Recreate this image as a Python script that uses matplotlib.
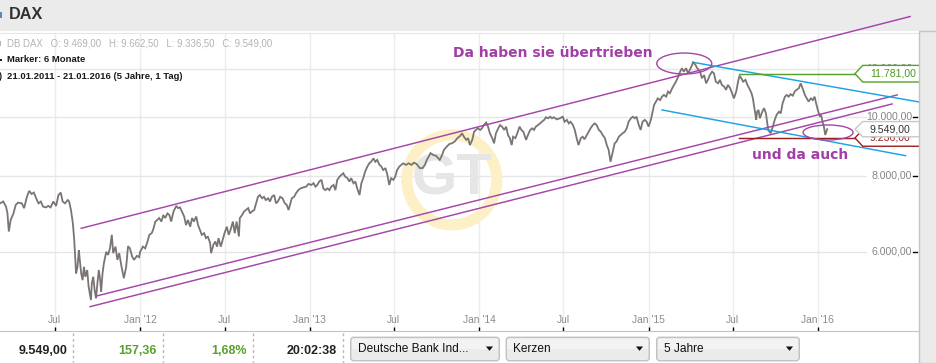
import numpy as np
import pandas as pd
import matplotlib
matplotlib.use("Agg")
import matplotlib.pyplot as plt
import matplotlib.dates as mdates
import matplotlib.transforms as mtransforms
from matplotlib.patches import Rectangle, Ellipse, Circle, Polygon, FancyBboxPatch

plt.rcParams["font.family"] = ["Liberation Sans", "DejaVu Sans"]

# ---------------- data ----------------
start_date = "2011-01-21"
day_offsets = [43, 50, 56, 59, 62, 66, 72, 77, 82, 90, 95, 101, 106, 111, 116, 121, 126, 131, 136, 142, 147, 152, 158, 164, 169, 174, 178, 183, 189, 192, 196, 200, 203, 205, 207, 210, 213, 215, 218, 221, 224, 227, 231, 234, 239, 241, 244, 247, 250, 253, 256, 259, 261, 264, 267, 272, 276, 280, 284, 287, 292, 296, 300, 305, 310, 315, 319, 323, 328, 332, 338, 343, 345, 351, 356, 361, 365, 370, 373, 378, 382, 386, 391, 395, 399, 404, 408, 412, 417, 423, 427, 431, 435, 440, 444, 448, 453, 457, 461, 466, 470, 474, 478, 483, 487, 491, 496, 498, 503, 507, 511, 514, 519, 523, 527, 532, 536, 540, 545, 549, 553, 558, 560, 565, 569, 573, 578, 582, 586, 591, 595, 599, 603, 608, 612, 616, 621, 625, 629, 634, 638, 642, 647, 652, 657, 661, 665, 668, 672, 677, 681, 686, 691, 697, 703, 708, 714, 719, 723, 727, 731, 736, 740, 744, 749, 753, 757, 762, 766, 770, 775, 779, 783, 787, 792, 796, 800, 805, 809, 813, 818, 822, 826, 830, 835, 839, 843, 848, 852, 856, 861, 865, 869, 874, 878, 882, 886, 891, 895, 899, 904, 908, 912, 918, 924, 930, 935, 941, 948, 954, 959, 963, 967, 971, 977, 983, 988, 991, 996, 1000, 1006, 1012, 1017, 1023, 1029, 1035, 1039, 1043, 1048, 1052, 1056, 1061, 1065, 1069, 1073, 1078, 1082, 1086, 1091, 1095, 1099, 1104, 1108, 1112, 1117, 1121, 1125, 1130, 1134, 1138, 1142, 1146, 1149, 1154, 1158, 1163, 1167, 1171, 1177, 1181, 1186, 1190, 1194, 1198, 1203, 1207, 1211, 1216, 1220, 1224, 1229, 1233, 1237, 1243, 1250, 1256, 1260, 1265, 1269, 1273, 1278, 1282, 1286, 1290, 1295, 1299, 1303, 1308, 1312, 1316, 1321, 1325, 1329, 1334, 1338, 1342, 1347, 1351, 1355, 1359, 1364, 1368, 1372, 1377, 1381, 1385, 1390, 1394, 1398, 1403, 1407, 1411, 1415, 1420, 1424, 1428, 1433, 1437, 1441, 1446, 1449, 1453, 1457, 1461, 1466, 1470, 1474, 1479, 1483, 1487, 1492, 1496, 1500, 1505, 1509, 1513, 1517, 1522, 1526, 1530, 1535, 1537, 1542, 1546, 1552, 1556, 1561, 1565, 1569, 1573, 1578, 1582, 1586, 1591, 1595, 1599, 1604, 1608, 1612, 1617, 1621, 1625, 1630, 1634, 1637, 1641, 1645, 1650, 1654, 1658, 1663, 1666, 1668, 1671, 1673, 1675, 1678, 1681, 1686, 1690, 1694, 1699, 1704, 1709, 1713, 1717, 1722, 1726, 1730, 1735, 1739, 1743, 1747, 1752, 1756, 1760, 1765, 1769, 1773, 1778, 1782, 1786, 1791, 1795, 1799, 1803, 1807, 1811, 1813, 1816, 1819, 1822, 1826]
closes = [7210, 7260, 7120, 6950, 6480, 6770, 6940, 7170, 7230, 7210, 7080, 7390, 7560, 7470, 7510, 7350, 7210, 7260, 7120, 7100, 7140, 7100, 7260, 7140, 7440, 7510, 7260, 7210, 7300, 7260, 7030, 6690, 6280, 5890, 5530, 5670, 6040, 5820, 5530, 5390, 5670, 5460, 5600, 5260, 5000, 5330, 5460, 5190, 5030, 5330, 5600, 5390, 5160, 5530, 5750, 6000, 5930, 6080, 6400, 5970, 6120, 5820, 5970, 5670, 5430, 5670, 6130, 6080, 5890, 5820, 5910, 5880, 6000, 6120, 6080, 6240, 6400, 6440, 6520, 6730, 6770, 6820, 6730, 6900, 6820, 6940, 6900, 6730, 6990, 7140, 7080, 7100, 6990, 6860, 6640, 6770, 6600, 6820, 6730, 6860, 6640, 6520, 6400, 6440, 6320, 6360, 6200, 5970, 6160, 6240, 6120, 6320, 6120, 6280, 6440, 6600, 6400, 6520, 6730, 6440, 6730, 6360, 6820, 6900, 6990, 7030, 7080, 6940, 6990, 7030, 7210, 7390, 7440, 7350, 7390, 7300, 7350, 7260, 7390, 7440, 7210, 7260, 7390, 7350, 7210, 7170, 7030, 7170, 7350, 7390, 7490, 7580, 7630, 7660, 7680, 7760, 7730, 7780, 7680, 7730, 7830, 7880, 7630, 7580, 7630, 7580, 7680, 7730, 7580, 7880, 7980, 8030, 8080, 7980, 7930, 7830, 7930, 7780, 7830, 7630, 7440, 7780, 7930, 8130, 8290, 8390, 8440, 8550, 8440, 8500, 8340, 8290, 8180, 8240, 8030, 7730, 7930, 7880, 7980, 8180, 8290, 8340, 8390, 8340, 8390, 8340, 8410, 8370, 8240, 8240, 8340, 8500, 8600, 8720, 8660, 8630, 8550, 8500, 8660, 8830, 8940, 9030, 9050, 9110, 9230, 9310, 9400, 9280, 9170, 9230, 8990, 9170, 9460, 9520, 9580, 9520, 9580, 9700, 9790, 9640, 9400, 9230, 9050, 9400, 9580, 9700, 9640, 9520, 9640, 9340, 9230, 8990, 9280, 9230, 9400, 9640, 9520, 9460, 9170, 9340, 9520, 9580, 9520, 9640, 9700, 9760, 9820, 9890, 9990, 9950, 10010, 9950, 9990, 9910, 9950, 10010, 9820, 9890, 9760, 9820, 9700, 9520, 9230, 8990, 9230, 9280, 9190, 9340, 9460, 9580, 9700, 9760, 9700, 9520, 9460, 9340, 9230, 8990, 8830, 8440, 8770, 9050, 9110, 9280, 9340, 9400, 9460, 9580, 9820, 9950, 10010, 9950, 10010, 9700, 9520, 9820, 9890, 9820, 9640, 9890, 10140, 10470, 10600, 10730, 10660, 10800, 10870, 10800, 11010, 10940, 11150, 11290, 11430, 11650, 11870, 12030, 11870, 12030, 11800, 11950, 12180, 12330, 12180, 12030, 11870, 11580, 11720, 11360, 11510, 11720, 11870, 11800, 11430, 11360, 11510, 11290, 11220, 11080, 11290, 11150, 10940, 10730, 11010, 11430, 11690, 11580, 11430, 11510, 11290, 11150, 10940, 10730, 10470, 10140, 9890, 10200, 10270, 9950, 10200, 10340, 10140, 9520, 9400, 9640, 9890, 10080, 10200, 10140, 10530, 10800, 10870, 10800, 10900, 10840, 11010, 11080, 11150, 11360, 11150, 10870, 10730, 10600, 10730, 10660, 10800, 10470, 10200, 10010, 10080, 9820, 9640, 9340, 9549]

tick_dates = ["2011-07-01", "2012-01-01", "2012-07-01", "2013-01-01", "2013-07-01",
              "2014-01-01", "2014-07-01", "2015-01-01", "2015-07-01", "2016-01-01"]
tick_labels = ["Jul", "Jan '12", "Jul", "Jan '13", "Jul", "Jan '14", "Jul", "Jan '15", "Jul", "Jan '16"]
y_levels = [6000, 8000, 10000, 12000]
y_labels = ["6.000,00", "8.000,00", "10.000,00", "12.000,00"]
x_range_offsets = [43, 2024]
y_range = [4446, 13744]

# drawn trend lines: (offset_start, value_start, offset_end, value_end)
channel_upper = (218, 6560, 2005, 14630)
channel_low_a = (251, 5076, 1977, 10870)
channel_low_b = (237, 4875, 1966, 10505)
blue_upper = (1541, 12284, 2024, 10585)
blue_lower = (1470, 10270, 1995, 8636)
green_level, green_label, green_from = 11781, "11.781,00", 1637
red_level, red_label, red_from = 9236, "9.236,00", 1637
last_close, last_label = 9549, "9.549,00"

# ---------------- figure ----------------
W, H, DPI = 937, 363, 100
fig = plt.figure(figsize=(W / DPI, H / DPI), dpi=DPI, facecolor="white")

def fx(px):
    return px / W

def fy(py):
    return 1 - py / H

AX_L, AX_R, AX_T, AX_B = 0, 919, 33, 331
ax = fig.add_axes([fx(AX_L), fy(AX_B), fx(AX_R - AX_L), (AX_B - AX_T) / H])
AXW = AX_R - AX_L

base = mdates.date2num(pd.Timestamp(start_date))
def dn(off):
    return base + np.asarray(off, dtype=float)

ax.set_yscale("log")
ax.set_xlim(dn(x_range_offsets[0]), dn(x_range_offsets[1]))
ax.set_ylim(*y_range)
ax.set_yticks([])
ax.set_yticks([], minor=True)

tick_nums = [mdates.date2num(pd.Timestamp(d)) for d in tick_dates]
ax.set_xticks(tick_nums)
ax.set_xticklabels([])
ax.tick_params(axis="x", direction="in", length=3, width=1, color="black")
for s in ["left", "right"]:
    ax.spines[s].set_visible(False)
ax.spines["bottom"].set_color("#c4c4c4")
ax.spines["top"].set_color("#e6e6e6")

bt = mtransforms.blended_transform_factory(ax.transAxes, ax.transData)
tb = mtransforms.blended_transform_factory(ax.transData, ax.transAxes)

# grid
for t in tick_nums:
    ax.axvline(t, color="#ececec", lw=1.0, zorder=0)
for lv in y_levels:
    ax.plot([0, 866 / AXW], [lv, lv], transform=bt, color="#e6e6e6", lw=1.0, zorder=0)

# tick labels
for t, lab in zip(tick_nums, tick_labels):
    ax.text(t, (AX_B - 320) / (AX_B - AX_T), lab, transform=tb, ha="center", va="center",
            fontsize=7.4, color="#8c8c8c")

for lv, lab in zip(y_levels, y_labels):
    ax.text(912 / AXW, lv, lab, transform=bt, ha="right", va="center", fontsize=7.6,
            color="#858585", zorder=3)
    ax.plot([913.5 / AXW, 917.5 / AXW], [lv, lv], transform=bt, color="black", lw=1.0,
            clip_on=False, zorder=3)

# watermark logo
logo_c = (dn(1017), 7880)
logo_tr = fig.dpi_scale_trans + mtransforms.ScaledTranslation(logo_c[0], logo_c[1], ax.transData)
ax.add_patch(Circle((0, 0), 0.45, transform=logo_tr, fill=False, ec="#fdf0c6", lw=8, zorder=1))
ax.text(0, 0, "GT", transform=logo_tr, ha="center", va="center", fontsize=42,
        fontweight="bold", color="#e6e6e6", zorder=1)

# price line
ax.plot(dn(day_offsets), closes, color="#7a7573", lw=1.3, zorder=4, solid_joinstyle="miter")

# trend lines
purple = "#a545a8"
blue = "#1ba3e6"
for i, (o1, v1, o2, v2) in enumerate([channel_upper, channel_low_a, channel_low_b]):
    ax.plot(dn([o1, o2]), [v1, v2], color=purple, lw=1.05, zorder=5, clip_on=(i != 0))
for (o1, v1, o2, v2) in [blue_upper, blue_lower]:
    ax.plot(dn([o1, o2]), [v1, v2], color=blue, lw=1.05, zorder=5)

ax.plot([dn(green_from), dn(x_range_offsets[1])], [green_level, green_level], color="#55a12a", lw=1.05, zorder=5)
ax.plot([dn(red_from), dn(x_range_offsets[1])], [red_level, red_level], color="#9a1f1f", lw=1.05, zorder=5)

# ellipses
for (off, val, w, h) in [(1518, 12243, 55, 21), (1828, 9430, 50, 15)]:
    tr = fig.dpi_scale_trans + mtransforms.ScaledTranslation(dn(off), val, ax.transData)
    ax.add_patch(Ellipse((0, 0), w / DPI, h / DPI, transform=tr, fill=False, ec=purple, lw=1.0, zorder=6))

# annotation text
ax.text(dn(1019), 12740, "Da haben sie übertrieben", ha="left", va="center", fontsize=10,
        fontweight="bold", color="#a23ea6", family="DejaVu Sans", zorder=7)
ax.text(dn(1664), 8660, "und da auch", ha="left", va="center", fontsize=10,
        fontweight="bold", color="#a23ea6", family="DejaVu Sans", zorder=7)

# price tags
def tag(value, text, ec, tc, z, half=8.3):
    tr = fig.dpi_scale_trans + mtransforms.ScaledTranslation(855 / AXW, value, bt)
    pts = np.array([(0, 0), (7.7, half), (80, half), (80, -half), (7.7, -half)]) / DPI
    ax.add_patch(Polygon(pts, closed=True, transform=tr, fc="white", ec=ec, lw=1.0,
                         clip_on=False, zorder=z))
    ax.text(870 / AXW, value, text, transform=bt, ha="left", va="center", fontsize=7.6,
            color=tc, clip_on=False, zorder=z + 0.5)

tag(green_level, green_label, "#55a12a", "#4a9a22", 8)
tag(red_level, red_label, "#9a1f1f", "#9a1f1f", 8)
tag(last_close, last_label, "#c8c8c8", "#333333", 9, half=7.6)

# ---------------- page chrome ----------------
fig.patches.append(Rectangle((0, fy(31)), 1, 31 / H, transform=fig.transFigure, fc="#ebebeb", ec="none", zorder=-1))
fig.patches.append(Rectangle((fx(919), 0), fx(W - 919), fy(31), transform=fig.transFigure, fc="#ebebeb", ec="#c4c4c4", lw=1.0, zorder=1))
fig.patches.append(Rectangle((fx(0), fy(18)), fx(2), 6 / H, transform=fig.transFigure, fc="#5a88b8", ec="none", zorder=2))
fig.text(fx(9), fy(14.5), "DAX", ha="left", va="center", fontsize=11.7, fontweight="bold", color="#333333")

fig.text(fx(7.3), fy(43.5), "DB DAX   O: 9.469,00   H: 9.662,50   L: 9.336,50   C: 9.549,00",
         ha="left", va="center", fontsize=6.9, color="#b4b4b4")
fig.text(fx(7.5), fy(60), "Marker: 6 Monate", ha="left", va="center", fontsize=6.8, fontweight="bold", color="#1a1a1a")
fig.text(fx(7.3), fy(76.5), "21.01.2011 - 21.01.2016 (5 Jahre, 1 Tag)", ha="left", va="center",
         fontsize=6.8, fontweight="bold", color="#1a1a1a")
fig.patches.append(Rectangle((0, fy(60.5)), fx(2), 1 / H, transform=fig.transFigure, fc="#1a1a1a", ec="none", zorder=2))
fig.patches.append(Rectangle((0, fy(46)), fx(1.5), 5 / H, transform=fig.transFigure, fc="#b4b4b4", ec="none", zorder=2))
fig.text(fx(-1.5), fy(76.5), ")", ha="left", va="center", fontsize=6.8, fontweight="bold", color="#1a1a1a")

# bottom bar
for xs in [73.3, 163.3, 253.3, 343.3]:
    fig.lines.append(plt.Line2D([fx(xs), fx(xs)], [fy(333), fy(363)], transform=fig.transFigure,
                                color="#b8b8b8", lw=1.0, ls=(0, (2, 2))))
bar_vals = [("9.549,00", 68, "#222222"), ("157,36", 157, "#5aa02c"), ("1,68%", 247, "#5aa02c"), ("20:02:38", 337, "#222222")]
for txt, xr, col in bar_vals:
    fig.text(fx(xr), fy(350.5), txt, ha="right", va="center", fontsize=9, fontweight="bold", color=col)

boxes = [("Deutsche Bank Ind...", 350.7, 499.3), ("Kerzen", 506.3, 649.3), ("5 Jahre", 656.7, 799.3)]
for txt, x0, x1 in boxes:
    fig.patches.append(FancyBboxPatch((x0 / DPI, (H - 360.7) / DPI), (x1 - x0) / DPI, 23.4 / DPI,
                                      boxstyle="round,pad=0,rounding_size=0.03",
                                      transform=fig.dpi_scale_trans, fc="#ebebeb", ec="#c2c2c2", lw=1.0, zorder=1))
    fig.patches.append(Rectangle(((x0 + 1) / DPI, (H - 349) / DPI), (x1 - x0 - 2) / DPI, 10.5 / DPI,
                                 transform=fig.dpi_scale_trans, fc="#f3f3f3", ec="none", zorder=1.5))
    fig.text(fx(x0 + 7), fy(349), txt, ha="left", va="center", fontsize=8.6, color="#111111", zorder=3)
    cx = x1 - 9.8
    tri = np.array([(cx - 3.6, H - 346.5), (cx + 3.6, H - 346.5), (cx, H - 350.8)]) / DPI
    fig.patches.append(Polygon(tri, closed=True, transform=fig.dpi_scale_trans, fc="#111111", ec="none", zorder=3))

fig.savefig("out.png", dpi=DPI, facecolor="white")
